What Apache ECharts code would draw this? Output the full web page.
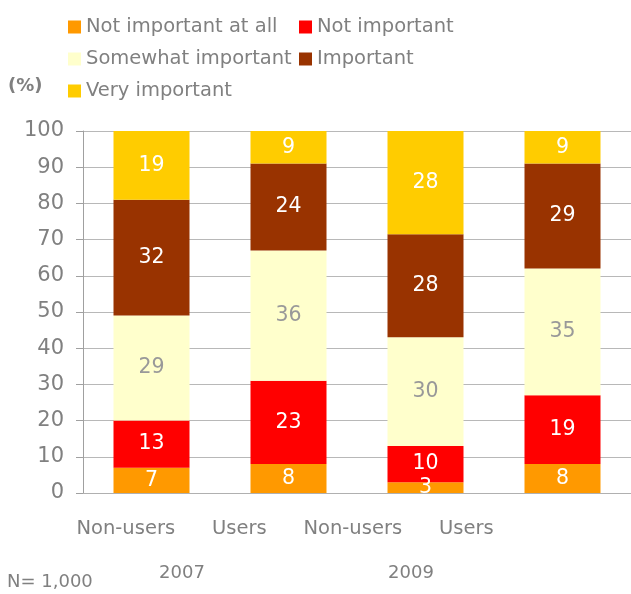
<!DOCTYPE html>
<html>
<head>
<meta charset="utf-8">
<script src="https://cdn.jsdelivr.net/npm/echarts@6/dist/echarts.min.js"></script>
<style>html,body{margin:0;padding:0;background:#fff}#c{width:631px;height:594px}</style>
</head>
<body>
<div id="c"></div>
<script>
const categories = ['Non-users', 'Users', 'Non-users', 'Users'];
const years = ['2007', '2009'];
const seriesNames = ['Not important at all', 'Not important', 'Somewhat important', 'Important', 'Very important'];
const notImportantAtAll = [7, 8, 3, 8];
const notImportant = [13, 23, 10, 19];
const somewhatImportant = [29, 36, 30, 35];
const important = [32, 24, 28.5, 29];
const veryImportant = [19, 9, 28.5, 9];
const printedLabels = [
  [7, 8, 3, 8],
  [13, 23, 10, 19],
  [29, 36, 30, 35],
  [32, 24, 28, 29],
  [19, 9, 28, 9]
];
const yTicks = [0, 10, 20, 30, 40, 50, 60, 70, 80, 90, 100];

const colors = ['#FF9900', '#FF0000', '#FFFFCC', '#993300', '#FFCC00'];
const labelColors = ['#fff', '#fff', '#999999', '#fff', '#fff'];
const values = [notImportantAtAll, notImportant, somewhatImportant, important, veryImportant];
const FONT = 'DejaVu Sans';
const GRAY = '#808080';

const chart = echarts.init(document.getElementById('c'), null, {renderer: 'canvas'});
const series = values.map((v, i) => ({
  name: seriesNames[i],
  type: 'bar',
  stack: 'total',
  xAxisIndex: 0, yAxisIndex: 0,
  barWidth: 76,
  data: v,
  itemStyle: {color: colors[i]},
  label: {
    show: true, position: 'inside',
    color: labelColors[i], fontFamily: FONT, fontSize: 20.5,
    formatter: p => String(printedLabels[i][p.dataIndex])
  },
  emphasis: {disabled: true}
}));

chart.setOption({
  animation: false,
  legend: [
    {
      left: 63, top: 12, orient: 'vertical', itemGap: 12,
      itemWidth: 13, itemHeight: 13, icon: 'rect',
      data: [seriesNames[0], seriesNames[2], seriesNames[4]],
      textStyle: {color: GRAY, fontFamily: FONT, fontSize: 19.5, lineHeight: 20}
    },
    {
      left: 294, top: 12, orient: 'vertical', itemGap: 12,
      itemWidth: 13, itemHeight: 13, icon: 'rect',
      data: [seriesNames[1], seriesNames[3]],
      textStyle: {color: GRAY, fontFamily: FONT, fontSize: 19.5, lineHeight: 20}
    }
  ],
  grid: [
    {left: 83, width: 551, top: 131, bottom: 101, containLabel: false},
    {left: 69, width: 454, top: 131, bottom: 101, containLabel: false}
  ],
  xAxis: [
    {
      type: 'category', gridIndex: 0, data: categories,
      axisLine: {show: true, lineStyle: {color: '#b0b0b0', width: 1}},
      axisTick: {show: false}, axisLabel: {show: false}
    },
    {
      type: 'category', gridIndex: 1, data: categories,
      axisLine: {show: false}, axisTick: {show: false},
      axisLabel: {show: true, interval: 0, color: GRAY, fontFamily: FONT, fontSize: 19.5, margin: 26}
    }
  ],
  yAxis: [
    {
      type: 'value', gridIndex: 0, min: 0, max: 100, interval: 10,
      axisLine: {show: true, lineStyle: {color: '#a0a0a0', width: 1}},
      axisTick: {show: true, length: 7, lineStyle: {color: '#a0a0a0'}},
      splitLine: {show: true, lineStyle: {color: '#b8b8b8', width: 1}},
      axisLabel: {color: GRAY, fontFamily: FONT, fontSize: 21, margin: 19,
        formatter: v => yTicks.includes(v) ? String(v) : ''}
    },
    {type: 'value', gridIndex: 1, min: 0, max: 100, show: false}
  ],
  series: series,
  graphic: [
    {type: 'text', left: 8, top: 77, style: {text: '(%)', fill: GRAY, font: 'bold 18px "DejaVu Sans"'}},
    {type: 'text', x: 182, y: 573, style: {text: years[0], fill: GRAY, font: '18px "DejaVu Sans"', align: 'center', verticalAlign: 'middle'}},
    {type: 'text', x: 411, y: 573, style: {text: years[1], fill: GRAY, font: '18px "DejaVu Sans"', align: 'center', verticalAlign: 'middle'}},
    {type: 'text', x: 7, y: 582, style: {text: 'N= 1,000', fill: GRAY, font: '18px "DejaVu Sans"', align: 'left', verticalAlign: 'middle'}}
  ]
});
</script>
</body>
</html>
